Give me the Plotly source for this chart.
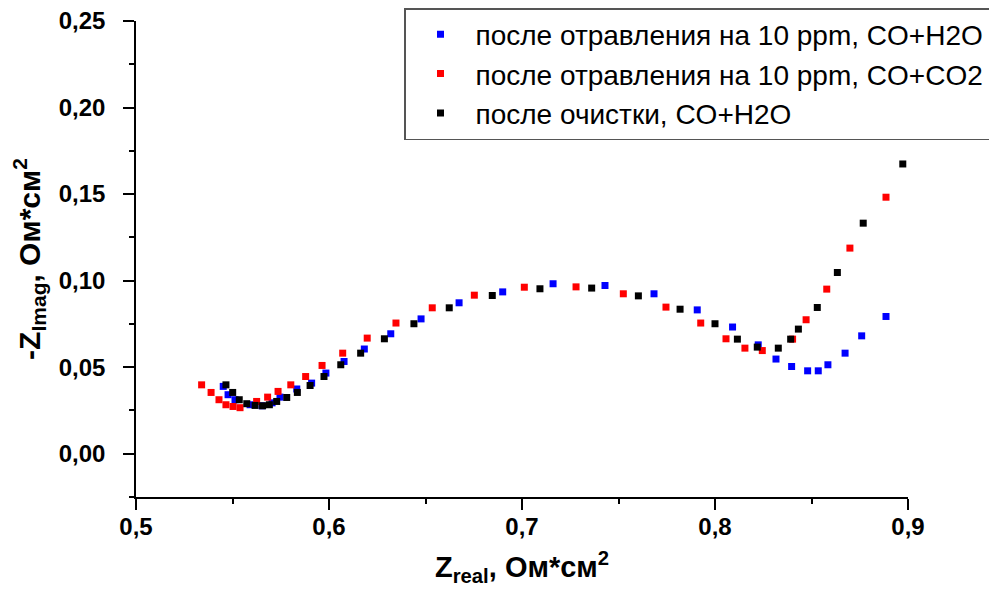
import plotly.graph_objects as go

# Series data (Z_real, -Z_imag), Ohm*cm^2
blue_name = "после отравления на 10 ppm, CO+H2O"
blue_x = [0.5452, 0.5477, 0.5513, 0.5591, 0.5653, 0.5705, 0.5746, 0.5833, 0.5910, 0.5984,
          0.6078, 0.6183, 0.6320, 0.6477, 0.6674, 0.6900, 0.7161, 0.7430, 0.7684, 0.7908,
          0.8091, 0.8224, 0.8316, 0.8397, 0.8480, 0.8535, 0.8585, 0.8674, 0.8760, 0.8886]
blue_y = [0.0389, 0.0341, 0.0312, 0.0283, 0.0277, 0.0294, 0.0327, 0.0374, 0.0408, 0.0466,
          0.0533, 0.0605, 0.0693, 0.0779, 0.0872, 0.0935, 0.0982, 0.0972, 0.0924, 0.0831,
          0.0732, 0.0629, 0.0547, 0.0504, 0.0479, 0.0479, 0.0514, 0.0581, 0.0681, 0.0793]

red_name = "после отравления на 10 ppm, CO+CO2"
red_x = [0.5340, 0.5389, 0.5430, 0.5466, 0.5503, 0.5539, 0.5625, 0.5682, 0.5736, 0.5802,
         0.5879, 0.5964, 0.6071, 0.6198, 0.6347, 0.6535, 0.6753, 0.7012, 0.7280, 0.7525,
         0.7746, 0.7926, 0.8057, 0.8155, 0.8245, 0.8402, 0.8472, 0.8579, 0.8699, 0.8886]
red_y = [0.0398, 0.0354, 0.0312, 0.0283, 0.0273, 0.0266, 0.0302, 0.0327, 0.0360, 0.0398,
         0.0446, 0.0510, 0.0581, 0.0668, 0.0755, 0.0843, 0.0916, 0.0962, 0.0964, 0.0924,
         0.0847, 0.0755, 0.0664, 0.0610, 0.0596, 0.0662, 0.0774, 0.0951, 0.1188, 0.1482]

black_name = "после очистки, CO+H2O"
black_x = [0.5466, 0.5501, 0.5535, 0.5574, 0.5617, 0.5656, 0.5691, 0.5729, 0.5781, 0.5836,
           0.5902, 0.5974, 0.6061, 0.6164, 0.6287, 0.6440, 0.6623, 0.6846, 0.7093, 0.7361,
           0.7603, 0.7819, 0.8000, 0.8116, 0.8219, 0.8328, 0.8392, 0.8432, 0.8530, 0.8634,
           0.8768, 0.8973]
black_y = [0.0398, 0.0354, 0.0312, 0.0289, 0.0279, 0.0277, 0.0283, 0.0302, 0.0325, 0.0354,
           0.0394, 0.0446, 0.0514, 0.0581, 0.0664, 0.0751, 0.0843, 0.0914, 0.0953, 0.0957,
           0.0912, 0.0835, 0.0751, 0.0662, 0.0616, 0.0610, 0.0662, 0.0720, 0.0845, 0.1047,
           0.1332, 0.1674]

x_title = "Z<sub>real</sub>, Ом*см<sup>2</sup>"
y_title = "-Z<sub>Imag</sub>, Ом*см<sup>2</sup>"

FONT = "Liberation Sans, Arial, sans-serif"
OFF = 8                      # default page body margin
W, H = 997 - OFF, 596 - OFF


def px_x(p):
    return (p - OFF) / W


def px_y(p):
    return 1 - (p - OFF) / H


fig = go.Figure()
for name, xs, ys, col in [(blue_name, blue_x, blue_y, "#0000ff"),
                          (red_name, red_x, red_y, "#ff0000"),
                          (black_name, black_x, black_y, "#000000")]:
    fig.add_trace(go.Scatter(x=xs, y=ys, mode="markers", name=name,
                             marker=dict(symbol="square", size=7, color=col,
                                         line=dict(width=0))))

axis_common = dict(showline=True, linecolor="black", linewidth=1.5, showgrid=False,
                   zeroline=False, ticks="outside", ticklen=11, tickwidth=1.5,
                   tickcolor="black", mirror=False, automargin=False,
                   ticklabeloverflow="allow",
                   tickfont=dict(family=FONT, size=24, color="black", weight="bold"))

fig.update_layout(
    width=W, height=H,
    margin=dict(l=0, r=0, t=0, b=0),
    plot_bgcolor="white", paper_bgcolor="white",
    separators=", ",
    font=dict(family=FONT, color="black"),
    xaxis=dict(domain=[px_x(136), px_x(908)],
               range=[0.5, 0.9], tick0=0.5, dtick=0.1, tickformat=".1f",
               minor=dict(dtick=0.05, ticks="outside", ticklen=5, tickwidth=1.5, tickcolor="black"),
               ticklabelstandoff=-4,
               title=dict(text=x_title, font=dict(family=FONT, size=29, weight="bold"), standoff=18),
               **axis_common),
    yaxis=dict(domain=[px_y(497), px_y(21)],
               range=[-0.025, 0.25], tick0=0, dtick=0.05, tickformat=".2f",
               minor=dict(dtick=0.025, ticks="outside", ticklen=5, tickwidth=1.5, tickcolor="black"),
               ticklabelstandoff=13,
               title=dict(text=y_title, font=dict(family=FONT, size=30, weight="bold"), standoff=10),
               **axis_common),
    legend=dict(x=px_x(990), xanchor="right", y=1, yanchor="top",
                bordercolor="#555", borderwidth=1.5, bgcolor="white",
                font=dict(family=FONT, size=28, color="black"),
                itemwidth=60),
    showlegend=True,
)

fig.write_html("out.html")
